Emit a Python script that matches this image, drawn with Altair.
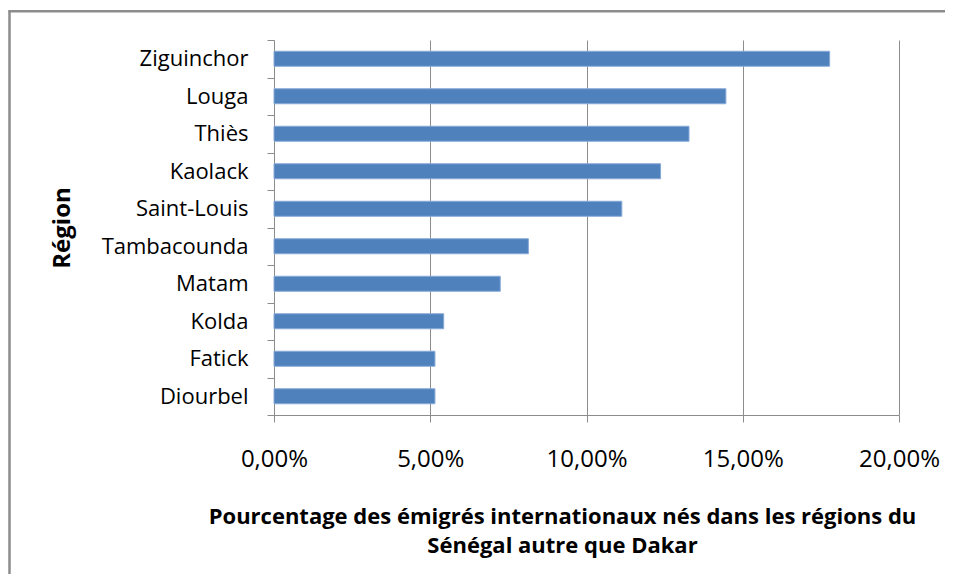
import altair as alt
import pandas as pd

REGIONS = ["Ziguinchor", "Louga", "Thiès", "Kaolack", "Saint-Louis",
           "Tambacounda", "Matam", "Kolda", "Fatick", "Diourbel"]
SHARES = [17.78, 14.46, 13.28, 12.37, 11.13, 8.14, 7.24, 5.43, 5.15, 5.15]
X_TICKS = [0, 5, 10, 15, 20]
X_TITLE = ["Pourcentage des émigrés internationaux nés dans les régions du",
           "Sénégal autre que Dakar"]
Y_TITLE = "Région"
TITLE = "Dakar"

df = pd.DataFrame({"region": REGIONS, "share": SHARES})

W, H = 625, 375
PAD_R, PAD_B = 47, 160
GRID = "#8c8c8c"
FONT = "Open Sans"

bars = alt.Chart(df).mark_bar(size=15, color="#4F81BD", stroke="#87A9D6", strokeWidth=1).encode(
    x=alt.X(
        "share:Q",
        scale=alt.Scale(domain=[0, 20], nice=False, zero=True),
        axis=alt.Axis(
            values=X_TICKS,
            labelExpr="replace(format(datum.value, '.2f'), '.', ',') + '%'",
            labelFlush=False, labelOverlap=False,
            title=X_TITLE, grid=True, gridColor=GRID, gridWidth=1,
            domainColor=GRID, tickColor=GRID, tickSize=7,
            labelFont=FONT, labelFontSize=24, labelColor="#000", labelPadding=25,
            titleFont=FONT, titleFontSize=22, titleFontWeight="bold", titleColor="#000",
            titleX=288, titleY=91, titleAlign="center", titleBaseline="top",
            titleLineHeight=29,
        ),
    ),
    y=alt.Y(
        "region:N", sort=REGIONS,
        scale=alt.Scale(paddingInner=0, paddingOuter=0),
        axis=alt.Axis(
            tickBand="extent", grid=False, domainColor=GRID, tickColor=GRID, tickSize=7,
            labelFont=FONT, labelFontSize=22, labelColor="#000", labelPadding=19,
            title=Y_TITLE, titleFont=FONT, titleFontSize=24, titleFontWeight="bold",
            titleColor="#000", titleX=-212, titleY=187.5, titleAngle=-90,
            titleAlign="center", titleBaseline="middle",
        ),
    ),
)

frame_df = pd.DataFrame({"k": [0]})
frame_left = alt.Chart(frame_df).mark_rule(color="#8c8c8c", strokeWidth=2.5).encode(
    x=alt.value(-264.5), y=alt.value(-28.7), y2=alt.value(H + PAD_B - 1),
)
frame_top = alt.Chart(frame_df).mark_rule(color="#8c8c8c", strokeWidth=2.5).encode(
    x=alt.value(-265.75), x2=alt.value(W + PAD_R - 1), y=alt.value(-28.7),
)

chart = alt.layer(frame_left, frame_top, bars).properties(
    width=W, height=H,
    title=alt.TitleParams(TITLE, font="Liberation Serif", fontSize=18, fontWeight="bold",
                          color="#000", anchor="middle", dx=-100, offset=30,
                          baseline="alphabetic"),
    autosize=alt.AutoSizeParams(type="none"),
    padding={"left": 266, "top": 32, "right": PAD_R, "bottom": PAD_B},
    background="white",
).configure_view(stroke=None)

chart.save("out.html", embed_options={"renderer": "svg", "actions": False})
